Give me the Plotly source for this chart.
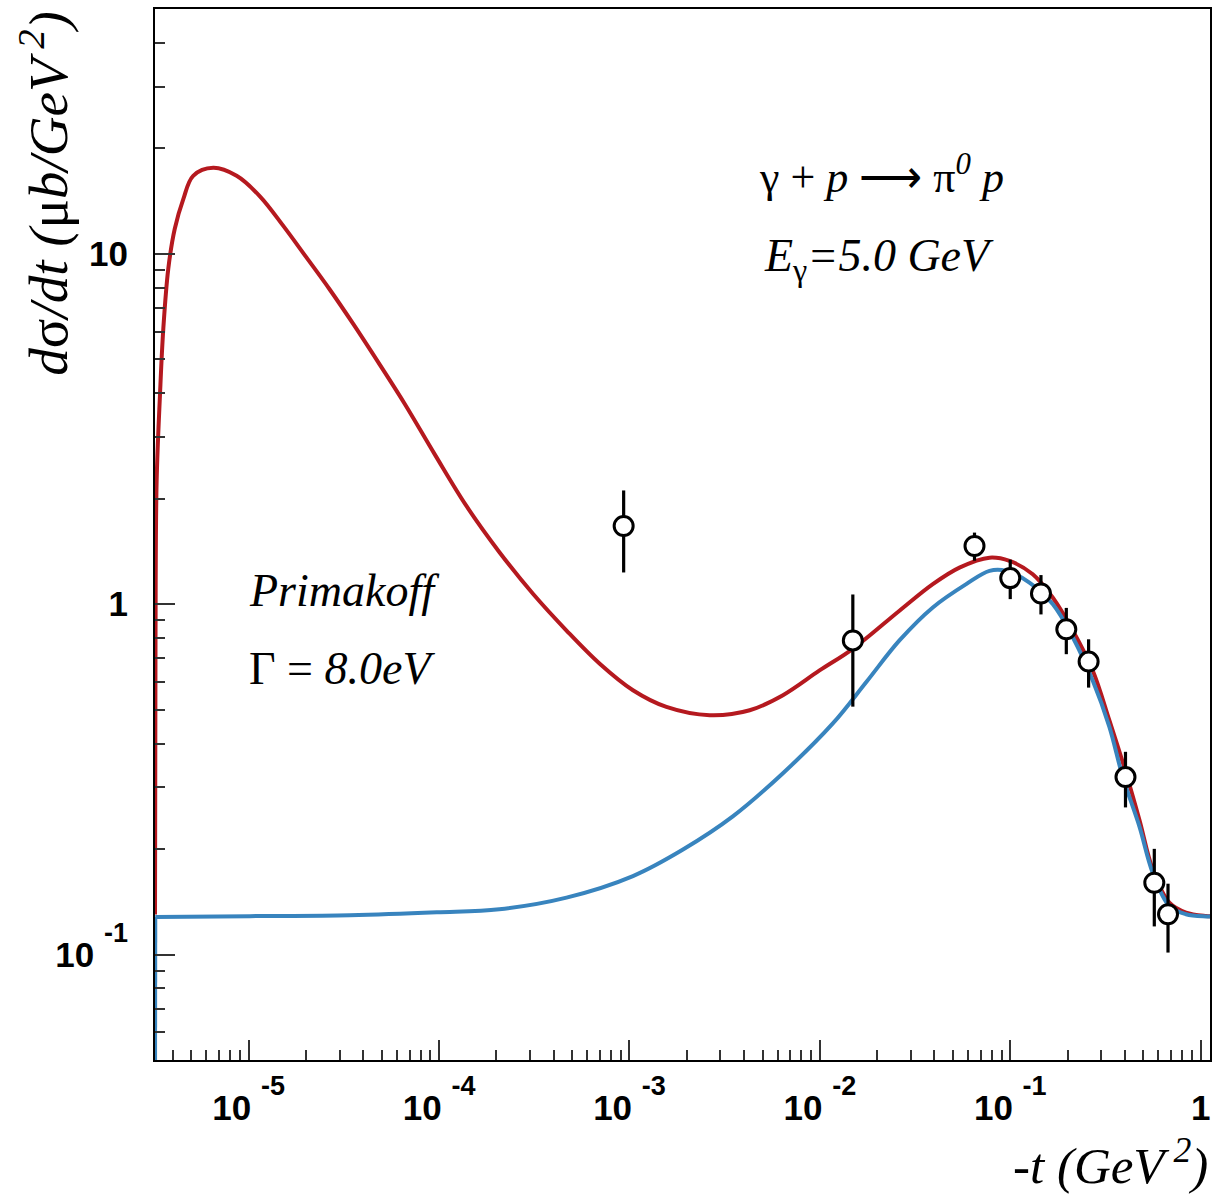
import math
import plotly.graph_objects as go

# ---------------- data ----------------
# Primakoff + nuclear (red curve): -t (GeV^2), dsigma/dt (ub/GeV^2)
red_t = [3.22e-6, 3.24e-6, 3.284e-6, 3.42e-6, 3.56e-6, 3.78e-6, 4.09e-6, 4.53e-6,
         5.11e-6, 6.51e-6, 8.64e-6, 1.145e-5, 1.523e-5, 2.01e-5, 2.67e-5, 3.54e-5,
         4.89e-5, 6.58e-5, 9.49e-5, 1.383e-4, 2.07e-4, 3.12e-4, 4.67e-4,
         6.98e-4, 1.043e-3, 1.563e-3, 2.64e-3, 4.28e-3, 6.40e-3, 9.96e-3, 0.0149,
         0.02619, 0.0392, 0.0541, 0.0778, 0.0991, 0.1313, 0.1671, 0.2130, 0.2711,
         0.3317, 0.4059, 0.4768, 0.560, 0.685, 0.838, 1.067, 1.12]
red_y = [0.13, 0.8, 2.24, 3.96, 6.11, 9.06, 11.8, 14.3,
         16.7, 17.6, 16.7, 14.6, 12.0, 9.77, 7.90, 6.31,
         4.82, 3.74, 2.677, 1.917, 1.410, 1.069, 0.841,
         0.676, 0.568, 0.509, 0.482, 0.498, 0.550, 0.647, 0.746,
         0.958, 1.141, 1.272, 1.358, 1.329, 1.218, 1.045, 0.841, 0.647,
         0.466, 0.3293, 0.2426, 0.175, 0.1407, 0.1318, 0.1289, 0.1287]

# Nuclear only (blue curve); the first two points are the drop at t_min
blue_edge_t = [3.22e-6, 3.23e-6]
blue_edge_y = [0.04, 0.128]
blue_t = [3.23e-6, 1.014e-5, 3.40e-5, 9.73e-5, 2.07e-4, 4.67e-4, 1.043e-3,
          1.91e-3, 3.49e-3, 6.40e-3, 0.0117, 0.01754, 0.02619, 0.0392, 0.0587,
          0.0778, 0.0952, 0.1261, 0.1671, 0.2130, 0.2711, 0.3317, 0.3896, 0.4768,
          0.560, 0.685, 0.838, 1.067, 1.12]
blue_y = [0.128, 0.1287, 0.1295, 0.132, 0.1347, 0.1454, 0.1675,
          0.1994, 0.2479, 0.3293, 0.4567, 0.5996, 0.788, 0.979, 1.141,
          1.245, 1.245, 1.153, 1.001, 0.805, 0.606, 0.4467, 0.322, 0.2322,
          0.1712, 0.1376, 0.1303, 0.1284, 0.1283]

# Data points
pts_t = [9.32e-4, 0.0149, 0.0649, 0.100, 0.145, 0.197, 0.258, 0.403, 0.571, 0.674]
pts_y = [1.672, 0.788, 1.466, 1.187, 1.073, 0.848, 0.686, 0.321, 0.1603, 0.1303]
pts_err = [0.44, 0.278, 0.135, 0.153, 0.138, 0.128, 0.108, 0.058, 0.040, 0.029]

# Axis ticks
x_major = [1e-5, 1e-4, 1e-3, 1e-2, 1e-1, 1]
x_exp = ["-5", "-4", "-3", "-2", "-1", None]
y_major = [0.1, 1, 10]
y_exp = ["-1", None, None]
y_plain = [None, "1", "10"]
x_minor = [k * 10.0 ** d for d in range(-6, 1) for k in range(2, 10)]
y_minor = [k * 10.0 ** d for d in range(-2, 2) for k in range(2, 10)]

x_range = [3.22e-6, 1.12]
y_range = [0.05, 50]


def power_label(e):
    return ("10\u00a0<sup><sup><span style='font-size:27px'>" + e + "</span></sup></sup>")


x_major_text = [power_label(e) if e else "1" for e in x_exp]
y_major_text = [power_label(e) if e else p for e, p in zip(y_exp, y_plain)]

RED = "#b5191f"
BLUE = "#3884be"

fig = go.Figure()
fig.add_trace(go.Scatter(x=red_t, y=red_y, mode="lines",
                         line=dict(color=RED, width=4, shape="spline", smoothing=1.0),
                         showlegend=False))
fig.add_trace(go.Scatter(x=blue_edge_t, y=blue_edge_y, mode="lines",
                         line=dict(color=BLUE, width=4), showlegend=False))
fig.add_trace(go.Scatter(x=blue_t, y=blue_y, mode="lines",
                         line=dict(color=BLUE, width=4, shape="spline", smoothing=1.0),
                         showlegend=False))
fig.add_trace(go.Scatter(x=pts_t, y=pts_y, mode="markers",
                         marker=dict(symbol="circle", size=19, color="white",
                                     line=dict(color="black", width=3)),
                         error_y=dict(type="data", array=pts_err, visible=True,
                                      color="black", thickness=3.2, width=0),
                         showlegend=False))

fig.update_xaxes(type="log", range=[math.log10(x_range[0]), math.log10(x_range[1])],
                 tickmode="array", tickvals=x_major, ticktext=x_major_text,
                 ticks="inside", ticklen=20, tickwidth=1.5, tickcolor="#333",
                 minor=dict(tickmode="array", tickvals=x_minor, ticks="inside",
                            ticklen=10, tickwidth=1.5, tickcolor="#333", showgrid=False),
                 showgrid=False, zeroline=False, showline=True, linecolor="black",
                 linewidth=2, mirror=True,
                 tickfont=dict(family="Liberation Sans", size=35, color="black", weight="bold"),
                 ticklabelstandoff=16)
fig.update_yaxes(type="log", range=[math.log10(y_range[0]), math.log10(y_range[1])],
                 tickmode="array", tickvals=y_major, ticktext=y_major_text,
                 ticks="inside", ticklen=20, tickwidth=1.5, tickcolor="#333",
                 minor=dict(tickmode="array", tickvals=y_minor, ticks="inside",
                            ticklen=10, tickwidth=1.5, tickcolor="#333", showgrid=False),
                 showgrid=False, zeroline=False, showline=True, linecolor="black",
                 linewidth=2, mirror=True,
                 tickfont=dict(family="Liberation Sans", size=35, color="black", weight="bold"),
                 ticklabelstandoff=18)

SERIF = "Liberation Serif"
annos = [
    dict(text="<i>-t</i> <i>(GeV</i><sup><i>\u00a02</i></sup><i>)</i>", x=1.0, y=-0.097,
         xanchor="right", yanchor="middle", font=dict(size=51)),
    dict(text="<i>d</i>σ<i>/dt</i> <i>(</i>μ<i>b/GeV</i><sup><i>\u00a02</i></sup><i>)</i>",
         x=-0.105, y=1.0, xanchor="center", yanchor="top", textangle=-90,
         font=dict(size=55)),
    dict(text="γ + <i>p</i> ⟶ π<sup><i>0</i></sup> <i>p</i>", x=0.5706, y=0.843,
         xanchor="left", yanchor="middle", font=dict(size=44)),
    dict(text="<i>E</i><sub>γ</sub><i>=5.0 GeV</i>", x=0.575, y=0.762,
         xanchor="left", yanchor="middle", font=dict(size=46)),
    dict(text="<i>Primakoff</i>", x=0.0872, y=0.4463,
         xanchor="left", yanchor="middle", font=dict(size=46)),
    dict(text="Γ = <i>8.0eV</i>", x=0.0872, y=0.3723,
         xanchor="left", yanchor="middle", font=dict(size=46)),
]
for a in annos:
    a["xref"] = "paper"
    a["yref"] = "paper"
    a["showarrow"] = False
    a["font"]["family"] = SERIF
    a["font"]["color"] = "black"
    fig.add_annotation(**a)

fig.update_layout(width=1223, height=1198,
                  margin=dict(l=155, r=13, t=7, b=138),
                  paper_bgcolor="white", plot_bgcolor="white")

fig.write_html("out.html")
